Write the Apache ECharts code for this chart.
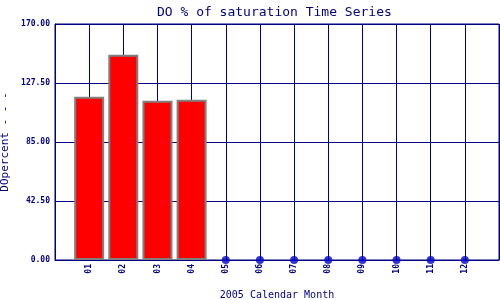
<!DOCTYPE html>
<html><head><meta charset="utf-8">
<script src="https://cdn.jsdelivr.net/npm/echarts@6/dist/echarts.min.js"></script>
<style>html,body{margin:0;padding:0;background:#fff}#c{width:500px;height:300px}</style>
</head><body><div id="c"></div>
<script>
const months = ['01','02','03','04','05','06','07','08','09','10','11','12'];
const barMonths = [1, 2, 3, 4];
const barValues = [117.6, 147.9, 114.8, 115.5];
const zeroMonths = [5, 6, 7, 8, 9, 10, 11, 12];
const zeroValues = [0, 0, 0, 0, 0, 0, 0, 0];
const yTicks = [0, 42.5, 85, 127.5, 170];

const navy = '#000080';
const chart = echarts.init(document.getElementById('c'));
chart.setOption({
  animation: false,
  title: {
    text: 'DO % of saturation Time Series',
    left: 152, top: 1,
    textStyle: {fontFamily: 'DejaVu Sans Mono', fontSize: 13, fontWeight: 'normal', color: navy}
  },
  grid: {left: 55, right: 1, top: 24, bottom: 40, show: true, borderColor: navy, borderWidth: 1,
         containLabel: false, outerBoundsMode: 'none'},
  xAxis: {
    type: 'value', min: 0, max: 13, interval: 1,
    name: '2005 Calendar Month', nameLocation: 'middle', nameGap: 30,
    nameTextStyle: {fontFamily: 'DejaVu Sans Mono', fontSize: 10, color: navy},
    axisLine: {show: true, lineStyle: {color: navy}},
    axisTick: {show: false},
    splitLine: {show: true, lineStyle: {color: navy, width: 1}},
    axisLabel: {
      rotate: 90, margin: 4,
      fontFamily: 'DejaVu Sans Mono', fontSize: 8, fontWeight: 'bold', color: navy,
      formatter: v => (v >= 1 && v <= 12) ? months[v - 1] : ''
    }
  },
  yAxis: {
    type: 'value', min: 0, max: 170, interval: 42.5,
    name: 'DOpercent - - -', nameLocation: 'middle', nameGap: 43,
    nameTextStyle: {fontFamily: 'DejaVu Sans Mono', fontSize: 11, color: navy},
    axisLine: {show: true, lineStyle: {color: navy}},
    axisTick: {show: false},
    splitLine: {show: true, lineStyle: {color: navy, width: 1}},
    axisLabel: {
      margin: 5,
      fontFamily: 'DejaVu Sans Mono', fontSize: 8, fontWeight: 'bold', color: navy,
      formatter: v => yTicks.includes(v) ? v.toFixed(2) : ''
    }
  },
  series: [
    {
      type: 'bar', barWidth: 30,
      data: barMonths.map((m, i) => [m, barValues[i]]),
      itemStyle: {color: '#ff0000', borderColor: '#808080', borderWidth: 2}
    },
    {
      type: 'scatter', symbol: 'circle', symbolSize: 8, clip: false,
      data: zeroMonths.map((m, i) => [m, zeroValues[i]]),
      itemStyle: {color: '#0000cc'}
    }
  ]
});
</script></body></html>
